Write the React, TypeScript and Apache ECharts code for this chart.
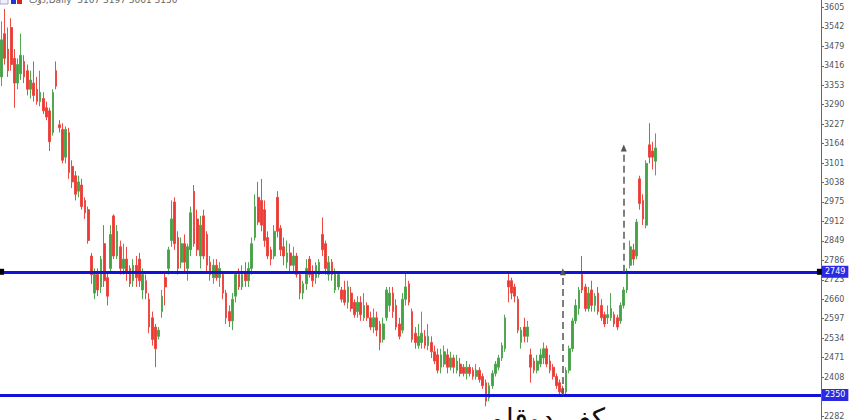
import React, { useEffect, useRef } from "react";
import * as echarts from "echarts";

// [open, close, low, high]
const candles: number[][] = [
  [3380, 3500, 3350, 3560], [3520, 3440, 3420, 3600], [3470, 3400, 3380, 3540], [3540, 3420, 3400, 3570],
  [3440, 3360, 3280, 3470], [3360, 3420, 3340, 3440], [3390, 3450, 3370, 3520], [3430, 3380, 3360, 3450],
  [3400, 3340, 3320, 3420], [3340, 3370, 3310, 3400], [3360, 3320, 3300, 3430], [3340, 3300, 3290, 3380],
  [3300, 3330, 3285, 3400], [3310, 3270, 3260, 3330], [3280, 3250, 3240, 3300], [3270, 3170, 3140, 3280],
  [3200, 3330, 3190, 3340], [3400, 3350, 3340, 3430], [3225, 3215, 3200, 3240], [3210, 3110, 3100, 3230],
  [3120, 3210, 3100, 3220], [3200, 3070, 3050, 3215], [3090, 3040, 3020, 3110], [3060, 3000, 2980, 3075],
  [3010, 3040, 2990, 3060], [3030, 2960, 2950, 3050], [2980, 2940, 2920, 2990], [2950, 2850, 2840, 2960],
  [2800, 2740, 2710, 2810], [2680, 2740, 2660, 2760], [2740, 2690, 2670, 2760], [2700, 2790, 2680, 2800],
  [2840, 2720, 2700, 2900], [2730, 2670, 2640, 2750], [2760, 2870, 2750, 2900], [2930, 2800, 2790, 2935],
  [2800, 2880, 2790, 2900], [2830, 2760, 2740, 2850], [2760, 2790, 2740, 2840], [2790, 2750, 2720, 2830],
  [2760, 2710, 2700, 2770], [2720, 2770, 2700, 2790], [2770, 2730, 2700, 2800], [2790, 2720, 2700, 2810],
  [2690, 2740, 2660, 2760], [2720, 2680, 2660, 2740], [2660, 2570, 2550, 2680], [2600, 2530, 2510, 2620],
  [2570, 2500, 2440, 2580], [2540, 2560, 2530, 2570], [2620, 2670, 2600, 2690], [2730, 2700, 2640, 2750],
  [2760, 2820, 2740, 2830], [2850, 2920, 2830, 2980], [2975, 2840, 2820, 2990], [2860, 2760, 2740, 2880],
  [2780, 2840, 2760, 2860], [2840, 2780, 2750, 2870], [2760, 2830, 2720, 2840], [2820, 2940, 2800, 2960],
  [3010, 2840, 2830, 3030], [2920, 2820, 2800, 2950], [2800, 2900, 2760, 2930], [2930, 2800, 2790, 2950],
  [2870, 2770, 2750, 2880], [2780, 2740, 2720, 2800], [2730, 2770, 2710, 2790], [2770, 2730, 2720, 2790],
  [2730, 2760, 2700, 2780], [2740, 2680, 2660, 2750], [2680, 2600, 2580, 2690], [2620, 2590, 2570, 2640],
  [2590, 2660, 2560, 2680], [2670, 2740, 2650, 2750], [2740, 2700, 2690, 2760], [2700, 2740, 2690, 2770],
  [2750, 2720, 2700, 2780], [2720, 2760, 2700, 2780], [2760, 2840, 2740, 2860], [2860, 2960, 2850, 3000],
  [2990, 2910, 2900, 3040], [2980, 2900, 2880, 3050], [2950, 2850, 2830, 2980], [2860, 2800, 2790, 2880],
  [2820, 2790, 2770, 2830], [2800, 2880, 2790, 2900], [2990, 2880, 2860, 3010], [2890, 2820, 2800, 2900],
  [2830, 2800, 2770, 2860], [2780, 2810, 2760, 2850], [2810, 2770, 2750, 2840], [2770, 2800, 2750, 2830],
  [2800, 2740, 2730, 2810], [2740, 2680, 2660, 2750], [2680, 2710, 2660, 2720], [2710, 2760, 2690, 2790],
  [2790, 2740, 2730, 2800], [2750, 2720, 2700, 2770], [2730, 2770, 2710, 2780], [2740, 2780, 2730, 2790],
  [2870, 2820, 2800, 2925], [2840, 2760, 2740, 2850], [2740, 2780, 2720, 2800], [2780, 2740, 2720, 2790],
  [2690, 2750, 2680, 2760], [2700, 2740, 2690, 2750], [2690, 2660, 2650, 2700], [2690, 2650, 2640, 2720],
  [2650, 2700, 2630, 2720], [2680, 2630, 2620, 2700], [2650, 2610, 2600, 2660], [2620, 2650, 2600, 2670],
  [2650, 2610, 2590, 2670], [2600, 2640, 2590, 2680], [2640, 2600, 2590, 2650], [2600, 2570, 2560, 2620],
  [2570, 2600, 2550, 2630], [2600, 2560, 2540, 2620], [2580, 2520, 2495, 2590], [2530, 2580, 2520, 2600],
  [2600, 2690, 2590, 2700], [2640, 2680, 2620, 2700], [2680, 2620, 2600, 2700], [2640, 2570, 2560, 2660],
  [2580, 2540, 2530, 2600], [2560, 2660, 2550, 2680], [2660, 2700, 2640, 2748], [2710, 2650, 2640, 2720],
  [2620, 2530, 2520, 2630], [2550, 2520, 2500, 2570], [2510, 2540, 2500, 2580], [2520, 2550, 2500, 2620],
  [2540, 2510, 2500, 2560], [2510, 2540, 2495, 2580], [2520, 2490, 2470, 2540], [2490, 2460, 2450, 2510],
  [2480, 2430, 2420, 2500], [2440, 2480, 2420, 2500], [2450, 2490, 2440, 2510], [2480, 2440, 2420, 2500],
  [2440, 2470, 2430, 2490], [2470, 2440, 2420, 2480], [2430, 2460, 2420, 2480], [2450, 2420, 2410, 2470],
  [2440, 2420, 2410, 2450], [2420, 2440, 2400, 2460], [2440, 2420, 2410, 2450], [2430, 2410, 2400, 2440],
  [2410, 2430, 2400, 2450], [2430, 2400, 2390, 2440], [2410, 2380, 2370, 2420], [2390, 2330, 2313, 2400],
  [2340, 2380, 2330, 2390], [2380, 2420, 2370, 2430], [2420, 2450, 2410, 2460], [2440, 2470, 2430, 2480],
  [2470, 2510, 2460, 2520], [2500, 2600, 2490, 2610], [2720, 2700, 2650, 2745], [2720, 2680, 2660, 2730],
  [2700, 2670, 2650, 2710], [2660, 2560, 2550, 2670], [2520, 2560, 2500, 2570], [2570, 2540, 2520, 2600],
  [2540, 2570, 2520, 2590], [2480, 2440, 2390, 2500], [2460, 2430, 2420, 2470], [2430, 2460, 2420, 2480],
  [2450, 2480, 2440, 2500], [2470, 2500, 2450, 2520], [2500, 2450, 2440, 2510], [2460, 2430, 2420, 2480],
  [2440, 2410, 2400, 2450], [2410, 2380, 2370, 2420], [2390, 2360, 2352, 2400], [2370, 2356, 2350, 2380],
  [2360, 2430, 2352, 2440], [2430, 2500, 2420, 2510], [2500, 2590, 2490, 2600], [2590, 2640, 2580, 2660],
  [2630, 2690, 2610, 2700], [2740, 2690, 2680, 2800], [2700, 2630, 2620, 2710], [2630, 2680, 2620, 2700],
  [2690, 2640, 2620, 2720], [2640, 2670, 2620, 2680], [2680, 2620, 2610, 2700], [2640, 2600, 2590, 2660],
  [2610, 2580, 2570, 2620], [2600, 2610, 2580, 2640], [2600, 2630, 2590, 2680], [2610, 2580, 2570, 2620],
  [2600, 2570, 2560, 2610], [2590, 2640, 2580, 2650], [2640, 2690, 2630, 2700], [2690, 2750, 2680, 2760],
  [2770, 2830, 2760, 2850], [2820, 2790, 2770, 2840], [2800, 2910, 2790, 2920], [3050, 2970, 2950, 3060],
  [2980, 2920, 2900, 3000], [2900, 3100, 2890, 3110], [3160, 3120, 3100, 3230], [3140, 3120, 3080, 3170],
  [3107, 3150, 3061, 3197],
];

const slotCount = 256;
const categories: string[] = Array.from({ length: slotCount }, (_, i) => String(i));

const tickValues = [
  2282, 2408, 2471, 2534, 2597, 2660, 2723, 2786, 2849, 2912, 2975, 3038, 3101, 3164, 3227, 3290, 3353,
  3416, 3479, 3542, 3605,
];

const resistance = 2749;
const support = 2350;
const target = 3150;
const arrow1Index = 175;
const arrow2Index = 194;

const headerText = "ذوب,Daily  3107 3197 3061 3150";
const patternText = "کف دوقلو";

export default function App() {
  const ref = useRef<HTMLDivElement>(null);
  useEffect(() => {
    document.body.style.margin = "0";
    if (!ref.current) return;
    const chart = echarts.init(ref.current, undefined, { renderer: "svg" });
    const blue = "#1212d8";
    chart.setOption({
      animation: false,
      backgroundColor: "#ffffff",
      grid: { left: 0, right: 29, top: 0, bottom: 0, containLabel: false },
      xAxis: {
        type: "category",
        data: categories,
        boundaryGap: true,
        show: false,
      },
      yAxis: {
        type: "value",
        position: "right",
        min: 2271,
        max: 3629,
        scale: true,
        splitLine: { show: false },
        axisLine: { show: true, lineStyle: { color: "#666", width: 1 } },
        axisTick: { show: true, length: 3, lineStyle: { color: "#666" }, customValues: tickValues },
        axisLabel: {
          show: true,
          customValues: tickValues,
          margin: 3,
          fontSize: 8,
          fontFamily: "DejaVu Sans",
          color: "#555",
          formatter: (v: number) => String(Math.round(v)),
        },
      },
      graphic: [
        { type: "rect", shape: { x: 0, y: -3, width: 8, height: 7 }, style: { fill: "#eef", stroke: "#aab" } },
        { type: "rect", shape: { x: 11, y: -2, width: 5, height: 6 }, style: { fill: "#2233dd" } },
        { type: "rect", shape: { x: 17, y: -2, width: 5, height: 6 }, style: { fill: "#dd2222" } },
        {
          type: "text",
          x: 29,
          y: -5,
          style: { text: headerText, fontSize: 9, fontFamily: "DejaVu Sans", fill: "#666" },
        },
        {
          type: "text",
          x: 548,
          y: 404,
          style: {
            text: patternText,
            fontSize: 28,
            fontFamily: "DejaVu Sans",
            fill: "#111",
            textAlign: "center",
            textVerticalAlign: "top",
          },
        },
      ],
      series: [
        {
          type: "candlestick",
          data: candles,
          barWidth: 2.2,
          itemStyle: {
            color: "#43a343",
            color0: "#ea3a32",
            borderColor: "#52a852",
            borderColor0: "#ec4a42",
            borderWidth: 1,
          },
          markLine: {
            silent: true,
            symbol: ["none", "none"],
            data: [
              {
                yAxis: resistance,
                lineStyle: { color: blue, width: 3, type: "solid" },
                label: {
                  show: true,
                  position: "end",
                  distance: 1,
                  formatter: String(resistance),
                  color: "#fff",
                  backgroundColor: "#2a2ae0",
                  fontSize: 8,
                  fontFamily: "DejaVu Sans",
                  padding: [2, 3],
                },
              },
              {
                yAxis: support,
                lineStyle: { color: blue, width: 3, type: "solid" },
                label: {
                  show: true,
                  position: "end",
                  distance: 1,
                  formatter: String(support),
                  color: "#fff",
                  backgroundColor: "#2a2ae0",
                  fontSize: 8,
                  fontFamily: "DejaVu Sans",
                  padding: [2, 3],
                },
              },
              [
                { coord: [arrow1Index, support], symbol: "none" },
                {
                  coord: [arrow1Index, resistance],
                  symbol: "triangle",
                  symbolSize: [6, 7],
                  lineStyle: { color: "#555", width: 1.5, type: [7, 4] },
                  label: { show: false },
                },
              ],
              [
                { coord: [arrow2Index, resistance], symbol: "none" },
                {
                  coord: [arrow2Index, target],
                  symbol: "triangle",
                  symbolSize: [6, 7],
                  lineStyle: { color: "#555", width: 1.5, type: [7, 4] },
                  label: { show: false },
                },
              ],
            ],
          },
          markPoint: {
            silent: true,
            symbol: "rect",
            symbolSize: [5, 6],
            itemStyle: { color: "#000" },
            label: { show: false },
            data: [{ coord: [0, resistance] }, { coord: [slotCount - 1, resistance] }],
          },
        },
      ],
    });
    return () => chart.dispose();
  }, []);
  return <div ref={ref} style={{ width: 850, height: 420 }} />;
}
